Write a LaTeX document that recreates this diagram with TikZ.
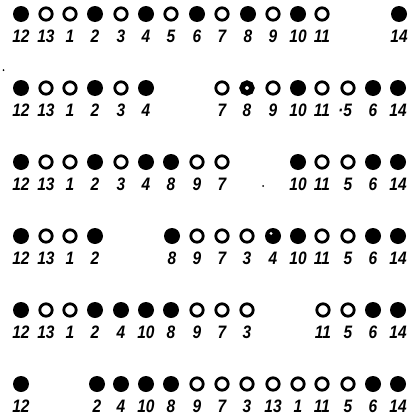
\documentclass[tikz,border=0pt]{standalone}
\usepackage{fontspec}
\usetikzlibrary{positioning}
\newfontfamily\numfamily[FakeStretch=0.86]{Liberation Sans}

\begin{document}
\begin{tikzpicture}[
    x=1pt,
    y=-1pt,
    full/.style={
        circle,
        fill=black,
        minimum size=16pt,
        inner sep=0pt
    },
    hollow/.style={
        circle,
        draw=black,
        line width=2.8pt,
        minimum size=12.4pt,
        inner sep=0pt
    },
    inked/.style={
        hollow,
        line width=5.4pt,
        minimum size=9.8pt
    },
    notched/.style={
        full,
        path picture={
            \fill[white] ([xshift=-2pt,yshift=2.6pt]path picture bounding box.center) circle (1.6pt);
        }
    },
    num/.style={
        font=\numfamily\bfseries\itshape\fontsize{18}{18}\selectfont,
        inner sep=0pt
    },
    speck/.style={
        circle,
        fill=black,
        inner sep=0pt,
        minimum size=2pt
    }
]

    \useasboundingbox (0,0) rectangle (417,415);

    % Row 1
    \foreach \x/\n/\k in {21/12/full, 46/13/hollow, 70/1/hollow, 95/2/full,
        121/3/hollow, 146/4/full, 171/5/hollow, 197/6/full, 222/7/hollow,
        248/8/full, 273/9/hollow, 298/10/full, 322/11/hollow, 399/14/full} {
        \node[\k] (ra-\n) at (\x,14) {};
        \node[num] (ra-\n-lab) at (\x,36) {\n};
    }

    % Row 2
    \foreach \x/\n/\k in {21/12/full, 46/13/hollow, 70/1/hollow, 95/2/full,
        121/3/hollow, 146/4/full, 222/7/hollow, 247/8/inked, 273/9/hollow,
        298/10/full, 322/11/hollow, 373/6/full, 398/14/full} {
        \node[\k] (rb-\n) at (\x,88) {};
        \node[num] (rb-\n-lab) at (\x,110) {\n};
    }
    \node[hollow] (rb-5) at (348,88) {};
    \node[num] (rb-5-lab) at (345,110) {·5};

    % Row 3
    \foreach \x/\n/\k in {21/12/full, 46/13/hollow, 70/1/hollow, 95/2/full,
        121/3/hollow, 146/4/full, 171/8/full, 197/9/hollow, 222/7/hollow,
        298/10/full, 322/11/hollow, 348/5/hollow, 373/6/full, 398/14/full} {
        \node[\k] (rc-\n) at (\x,162) {};
        \node[num] (rc-\n-lab) at (\x,184) {\n};
    }

    % Row 4
    \foreach \x/\n/\k in {21/12/full, 46/13/hollow, 70/1/hollow, 95/2/full,
        172/8/full, 197/9/hollow, 222/7/hollow, 247/3/hollow, 273/4/notched,
        298/10/full, 322/11/hollow, 348/5/hollow, 373/6/full, 398/14/full} {
        \node[\k] (rd-\n) at (\x,236) {};
        \node[num] (rd-\n-lab) at (\x,258) {\n};
    }

    % Row 5
    \foreach \x/\n/\k in {21/12/full, 46/13/hollow, 70/1/hollow, 95/2/full,
        121/4/full, 146/10/full, 171/8/full, 197/9/hollow, 222/7/hollow,
        247/3/hollow, 323/11/hollow, 348/5/hollow, 373/6/full, 398/14/full} {
        \node[\k] (re-\n) at (\x,310) {};
        \node[num] (re-\n-lab) at (\x,332) {\n};
    }

    % Row 6
    \foreach \x/\n/\k in {21/12/full, 97/2/full, 121/4/full, 146/10/full,
        171/8/full, 197/9/hollow, 222/7/hollow, 247/3/hollow, 273/13/hollow,
        298/1/hollow, 322/11/hollow, 348/5/hollow, 373/6/full, 398/14/full} {
        \node[\k] (rf-\n) at (\x,384) {};
        \node[num] (rf-\n-lab) at (\x,406) {\n};
    }

    % specks of ink
    \node[speck] (speck-a) at (3.5,70) {};
    \node[speck] (speck-b) at (263,186) {};
    \draw[line width=1.2pt] ([xshift=0.4pt,yshift=-3pt]rc-6.north) -- ++(1.4pt,-3pt);

\end{tikzpicture}
\end{document}
